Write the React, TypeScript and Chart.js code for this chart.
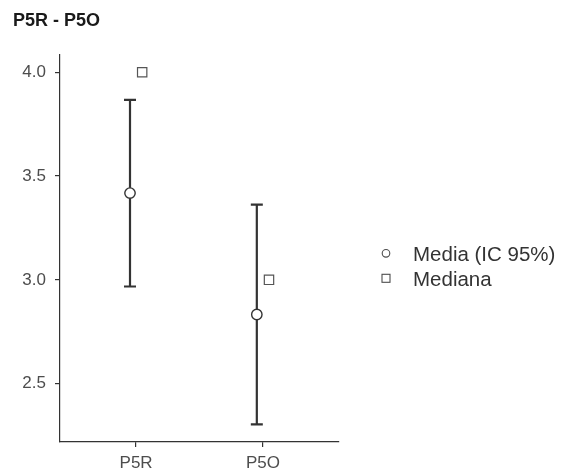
import React, { useEffect, useRef } from "react";
import { Chart, registerables } from "chart.js";

Chart.register(...registerables);

const title = "P5R - P5O";
const categories = ["P5R", "P5O"];
const means = [3.418, 2.833];
const ciLower = [2.968, 2.304];
const ciUpper = [3.867, 3.362];
const medians = [4.0, 3.0];
const yTicks = [2.5, 3.0, 3.5, 4.0];
const legendLabels = ["Media (IC 95%)", "Mediana"];

const DODGE = 0.048;
const FONT = "'Liberation Sans', Arial, Helvetica, sans-serif";

export default function App() {
  const ref = useRef<HTMLCanvasElement | null>(null);

  useEffect(() => {
    if (!ref.current) return;

    const overlay = {
      id: "overlay",
      beforeDatasetsDraw(chart: any) {
        const ctx = chart.ctx;
        const xs = chart.scales.x;
        const ys = chart.scales.y;
        ctx.save();
        ctx.strokeStyle = "#333333";
        ctx.lineWidth = 2.2;
        ctx.lineCap = "butt";
        for (let i = 0; i < categories.length; i++) {
          const x = xs.getPixelForValue(i + 1 - DODGE);
          const y1 = ys.getPixelForValue(ciLower[i]);
          const y2 = ys.getPixelForValue(ciUpper[i]);
          ctx.beginPath();
          ctx.moveTo(x, y1);
          ctx.lineTo(x, y2);
          ctx.moveTo(x - 6, y1);
          ctx.lineTo(x + 6, y1);
          ctx.moveTo(x - 6, y2);
          ctx.lineTo(x + 6, y2);
          ctx.stroke();
        }
        ctx.restore();
      },
      afterDraw(chart: any) {
        const ctx = chart.ctx;
        ctx.save();
        // title
        ctx.fillStyle = "#1a1a1a";
        ctx.font = `bold 18px ${FONT}`;
        ctx.textAlign = "left";
        ctx.textBaseline = "alphabetic";
        ctx.fillText(title, 13, 26);
        // legend
        const rows = [253.3, 278.3];
        ctx.strokeStyle = "#4d4d4d";
        ctx.lineWidth = 1.1;
        ctx.beginPath();
        ctx.arc(386, rows[0], 3.8, 0, Math.PI * 2);
        ctx.stroke();
        ctx.strokeRect(382, rows[1] - 4, 8, 8);
        ctx.fillStyle = "#333333";
        ctx.font = `20.5px ${FONT}`;
        ctx.fillText(legendLabels[0], 413, rows[0] + 7.4);
        ctx.fillText(legendLabels[1], 413, rows[1] + 7.4);
        ctx.restore();
      },
    };

    const chart = new Chart(ref.current, {
      type: "scatter",
      data: {
        datasets: [
          {
            label: legendLabels[0],
            data: means.map((v, i) => ({ x: i + 1 - DODGE, y: v })),
            pointStyle: "circle",
            pointRadius: 5.2,
            pointBackgroundColor: "#ffffff",
            pointBorderColor: "#333333",
            pointBorderWidth: 1.4,
            showLine: false,
          },
          {
            label: legendLabels[1],
            data: medians.map((v, i) => ({ x: i + 1 + DODGE, y: v })),
            pointStyle: "rect",
            pointRadius: 6.6,
            pointBackgroundColor: "#ffffff",
            pointBorderColor: "#555555",
            pointBorderWidth: 1.2,
            showLine: false,
          },
        ],
      },
      options: {
        responsive: false,
        animation: false,
        layout: { padding: { top: 55, right: 230, bottom: 0, left: 0 } },
        plugins: {
          legend: { display: false },
          title: { display: false },
          tooltip: { enabled: false },
        },
        scales: {
          x: {
            type: "linear",
            min: 0.4,
            max: 2.6,
            afterBuildTicks: (scale: any) => {
              scale.ticks = categories.map((_, i) => ({ value: i + 1 }));
            },
            afterFit: (scale: any) => {
              scale.height = 30;
              scale.paddingLeft = 0;
              scale.paddingRight = 0;
            },
            ticks: {
              callback: (v: any) => categories[Math.round(Number(v)) - 1] ?? "",
              color: "#4d4d4d",
              font: { family: FONT, size: 17 },
              padding: 6,
              maxRotation: 0,
            },
            grid: {
              drawOnChartArea: false,
              drawTicks: true,
              tickLength: 5,
              color: "#333333",
              lineWidth: 1.2,
            },
            border: { display: true, color: "#333333", width: 1.2 },
          },
          y: {
            type: "linear",
            min: 2.219,
            max: 4.083,
            afterBuildTicks: (scale: any) => {
              scale.ticks = yTicks.map((v) => ({ value: v }));
            },
            afterFit: (scale: any) => {
              scale.width = 60;
              scale.paddingTop = 0;
              scale.paddingBottom = 0;
            },
            ticks: {
              callback: (v: any) => Number(v).toFixed(1),
              color: "#4d4d4d",
              font: { family: FONT, size: 17 },
              padding: 9,
            },
            grid: {
              drawOnChartArea: false,
              drawTicks: true,
              tickLength: 5,
              color: "#333333",
              lineWidth: 1.2,
            },
            border: { display: true, color: "#333333", width: 1.2 },
          },
        },
      },
      plugins: [overlay],
    } as any);

    return () => chart.destroy();
  }, []);

  return (
    <div style={{ position: "absolute", left: 0, top: 0, width: 569, height: 472, background: "#ffffff" }}>
      <canvas ref={ref} width={569} height={472} style={{ display: "block" }} />
    </div>
  );
}
